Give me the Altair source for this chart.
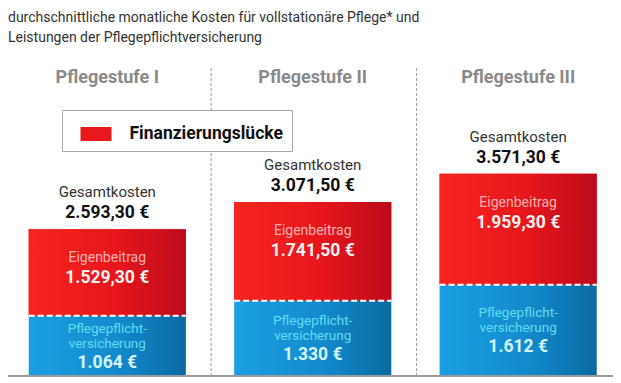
import altair as alt
import pandas as pd

stufen = ["Pflegestufe I", "Pflegestufe II", "Pflegestufe III"]
gesamt = [2593.30, 3071.50, 3571.30]
eigen = [1529.30, 1741.50, 1959.30]
pflicht = [1064, 1330, 1612]
legend_label = "Finanzierungslücke"
title_lines = [
    "durchschnittliche monatliche Kosten für vollstationäre Pflege* und",
    "Leistungen der Pflegepflichtversicherung",
]


def euro(v, dec):
    s = f"{v:,.{dec}f}".replace(",", "X").replace(".", ",").replace("X", ".")
    return s + " €"


df = pd.DataFrame({
    "stufe": stufen,
    "gesamt": gesamt,
    "eigen": eigen,
    "pflicht": pflicht,
    "gesamt_txt": [euro(v, 2) for v in gesamt],
    "eigen_txt": [euro(v, 2) for v in eigen],
    "pflicht_txt": [euro(v, 0) for v in pflicht],
    "seg": [legend_label] * len(stufen),
})

FONT = "Roboto"
W, H = 605, 316

xscale = alt.Scale(domain=stufen, paddingInner=0.235, paddingOuter=0.09, align=0.56)
yscale = alt.Scale(domain=[0, 5580], nice=False, zero=True)


def X(**kw):
    return alt.X("stufe:N", scale=xscale, axis=None, **kw)


red_grad = alt.Gradient(
    gradient="linear",
    stops=[alt.GradientStop(color="#f72520", offset=0),
           alt.GradientStop(color="#e6161c", offset=0.55),
           alt.GradientStop(color="#bd0b1b", offset=1)],
    x1=0, x2=1, y1=0, y2=0)
blue_grad = alt.Gradient(
    gradient="linear",
    stops=[alt.GradientStop(color="#1a9fe2", offset=0),
           alt.GradientStop(color="#138bcd", offset=0.55),
           alt.GradientStop(color="#0a6aa3", offset=1)],
    x1=0, x2=1, y1=0, y2=0)

base = alt.Chart(df).transform_calculate(
    top="datum.pflicht + datum.eigen",
    mid="datum.pflicht / 2",
    plabel="'Pflegepflicht-\\nversicherung'",
    elabel="'Eigenbeitrag'",
    glabel="'Gesamtkosten'",
)

separators = base.transform_filter(alt.datum.stufe != stufen[0]).mark_rule(
    color="#9c9c9c", strokeDash=[3, 2], strokeWidth=1, xOffset=-23
).encode(x=X(bandPosition=0), y=alt.value(8), y2=alt.value(H))

headers = base.mark_text(font=FONT, fontSize=18, fontWeight="bold",
                         color="#8a8a8a", baseline="middle").encode(
    x=X(), y=alt.value(18), text="stufe:N")

blue_bars = base.mark_bar(color=blue_grad).encode(
    x=X(), y=alt.Y("pflicht:Q", scale=yscale, axis=None))

legend_bars = base.mark_bar().encode(
    x=X(), y=alt.Y("top:Q", scale=yscale, axis=None), y2="pflicht:Q",
    color=alt.Color(
        "seg:N",
        scale=alt.Scale(domain=[legend_label], range=["#e8181d"]),
        legend=alt.Legend(
            orient="none", legendX=54, legendY=50, title=None,
            padding=8.5, strokeColor="#a8a8a8", fillColor="white",
            symbolType="M-1,-0.45H1V0.45H-1Z", symbolSize=961,
            symbolOffset=10, symbolStrokeWidth=0, labelOffset=18,
            labelFont=FONT, labelFontSize=17.5, labelFontWeight="bold",
            labelColor="#111111", labelLimit=400,
            labelExpr="datum.label + '\u00a0\u00a0\u00a0\u00a0\u00a0\u00a0\u00a0'")))

red_bars = base.mark_bar(color=red_grad).encode(
    x=X(), y=alt.Y("top:Q", scale=yscale, axis=None), y2="pflicht:Q")

split = base.mark_rule(color="white", strokeDash=[6, 3], strokeWidth=2).encode(
    x=X(bandPosition=0), x2=alt.X2("stufe", bandPosition=1),
    y=alt.Y("pflicht:Q", scale=yscale, axis=None))

baseline = alt.Chart(df).mark_rule(color="#9a9a9a", strokeWidth=2).encode(
    y=alt.Y(datum=0, scale=yscale, axis=None))

g_label = base.mark_text(font=FONT, fontSize=15, color="#333333", dy=-37).encode(
    x=X(), y=alt.Y("top:Q", scale=yscale, axis=None), text="glabel:N")
g_value = base.mark_text(font=FONT, fontSize=17.5, fontWeight="bold",
                         color="#111111", dy=-16).encode(
    x=X(), y=alt.Y("top:Q", scale=yscale, axis=None), text="gesamt_txt:N")

e_label = base.mark_text(font=FONT, fontSize=14, color="#f9b0b0", dy=29).encode(
    x=X(), y=alt.Y("top:Q", scale=yscale, axis=None), text="elabel:N")
e_value = base.mark_text(font=FONT, fontSize=17.5, fontWeight="bold",
                         color="#fdf1f1", dy=49).encode(
    x=X(), y=alt.Y("top:Q", scale=yscale, axis=None), text="eigen_txt:N")

p_label = base.mark_text(font=FONT, fontSize=13.5, color="#62def4", dy=-17,
                         lineBreak="\n", lineHeight=15).encode(
    x=X(), y=alt.Y("mid:Q", scale=yscale, axis=None), text="plabel:N")
p_value = base.mark_text(font=FONT, fontSize=17.5, fontWeight="bold",
                         color="#d3f4fb", dy=17).encode(
    x=X(), y=alt.Y("mid:Q", scale=yscale, axis=None), text="pflicht_txt:N")

chart = alt.layer(
    separators, headers, blue_bars, legend_bars, red_bars, split, baseline,
    g_label, g_value, e_label, e_value, p_label, p_value,
).properties(
    width=W, height=H,
    padding={"left": 0, "top": 52, "right": 0, "bottom": 7},
    autosize=alt.AutoSizeParams(type="none"),
    title=alt.TitleParams(title_lines, anchor="start", frame="group", offset=15,
                          font=FONT, fontSize=14, fontWeight="normal",
                          color="#333333", lineHeight=20),
).configure_view(stroke=None)

chart.save("out.html", embed_options={"renderer": "svg", "actions": False})
